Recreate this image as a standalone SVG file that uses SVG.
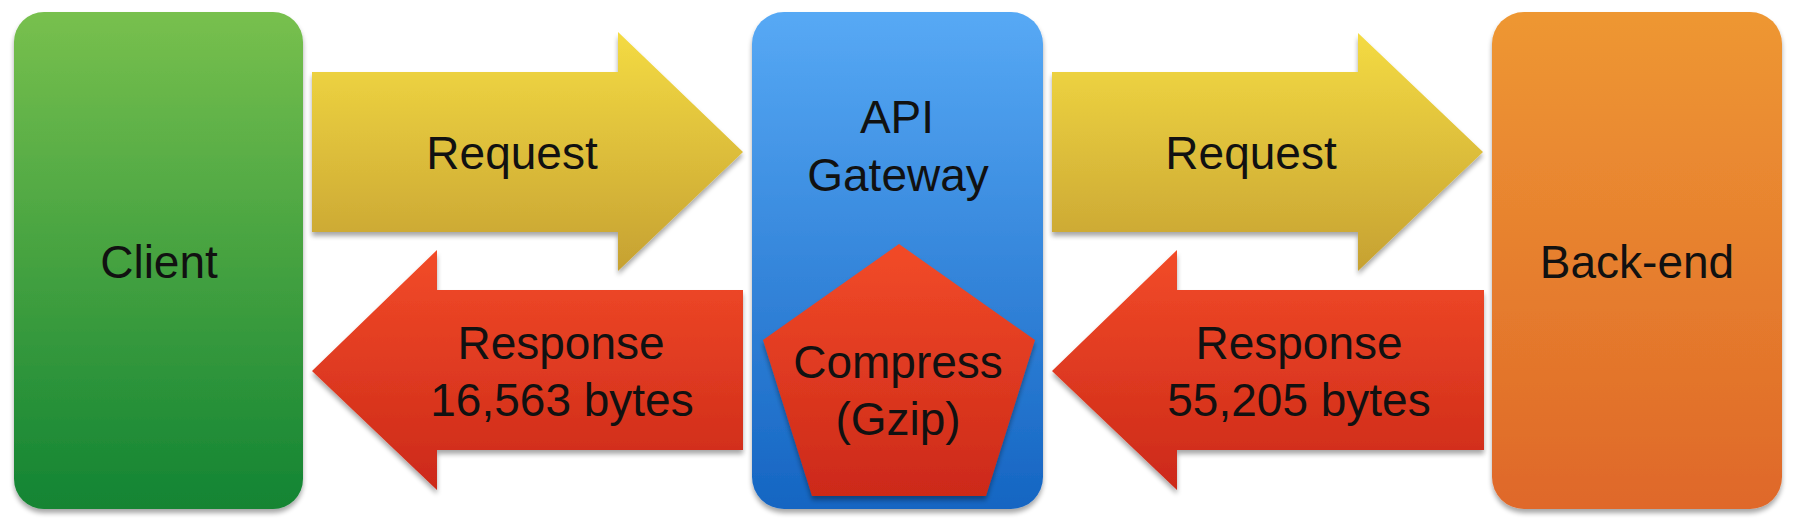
<svg xmlns="http://www.w3.org/2000/svg" width="1794" height="526" viewBox="0 0 1794 526">
<defs>
  <linearGradient id="gGreen" x1="0" y1="0" x2="0" y2="1"><stop offset="0" stop-color="#78c04e"/><stop offset="1" stop-color="#128433"/></linearGradient>
  <linearGradient id="gBlue" x1="0" y1="0" x2="0" y2="1"><stop offset="0" stop-color="#57a9f5"/><stop offset="1" stop-color="#1565c2"/></linearGradient>
  <linearGradient id="gOrange" x1="0" y1="0" x2="0" y2="1"><stop offset="0" stop-color="#ee9733"/><stop offset="1" stop-color="#df6829"/></linearGradient>
  <linearGradient id="gYellow" x1="0" y1="0" x2="0" y2="1"><stop offset="0" stop-color="#f4db43"/><stop offset="1" stop-color="#c6a132"/></linearGradient>
  <linearGradient id="gRed" x1="0" y1="0" x2="0" y2="1"><stop offset="0" stop-color="#f24b28"/><stop offset="1" stop-color="#cc2919"/></linearGradient>
  <filter id="sh" x="-10%" y="-10%" width="120%" height="120%">
    <feGaussianBlur in="SourceAlpha" stdDeviation="2.5"/>
    <feOffset dx="0" dy="4" result="b"/>
    <feComponentTransfer><feFuncA type="linear" slope="0.35"/></feComponentTransfer>
    <feMerge><feMergeNode/><feMergeNode in="SourceGraphic"/></feMerge>
  </filter>
</defs>
<style>
  text { font-family: "Liberation Sans", Arial, sans-serif; font-size: 46px; fill: #111; text-anchor: middle; }
</style>
<g id="connectors">
  <g id="req1">
    <polygon points="312,72 618,72 618,32 743,152 618,271 618,232 312,232" fill="url(#gYellow)" filter="url(#sh)"/>
    <text x="512" y="169">Request</text>
  </g>
  <g id="resp1">
    <polygon points="743,290 437,290 437,250 312,371 437,490 437,450 743,450" fill="url(#gRed)" filter="url(#sh)"/>
    <text x="561" y="359">Response</text>
    <text x="562" y="416">16,563 bytes</text>
  </g>
  <g id="req2">
    <polygon points="1052,72 1358,72 1358,33 1483,152 1358,271 1358,232 1052,232" fill="url(#gYellow)" filter="url(#sh)"/>
    <text x="1251" y="169">Request</text>
  </g>
  <g id="resp2">
    <polygon points="1484,290 1177,290 1177,250 1052,371 1177,490 1177,450 1484,450" fill="url(#gRed)" filter="url(#sh)"/>
    <text x="1299" y="359">Response</text>
    <text x="1299" y="416">55,205 bytes</text>
  </g>
</g>
<g id="client">
  <rect x="14" y="12" width="289" height="497" rx="30" fill="url(#gGreen)" filter="url(#sh)"/>
  <text x="159" y="278">Client</text>
</g>
<g id="gateway">
  <rect x="752" y="12" width="291" height="497" rx="32" fill="url(#gBlue)" filter="url(#sh)"/>
  <text x="897" y="133">API</text>
  <text x="898" y="191">Gateway</text>
</g>
<g id="compress">
  <polygon points="899,244 1035,340 986,496 812,496 763,340" fill="url(#gRed)" filter="url(#sh)"/>
  <text x="898" y="378">Compress</text>
  <text x="898" y="435">(Gzip)</text>
</g>
<g id="backend">
  <rect x="1492" y="12" width="290" height="497" rx="32" fill="url(#gOrange)" filter="url(#sh)"/>
  <text x="1637" y="278">Back-end</text>
</g>
</svg>
